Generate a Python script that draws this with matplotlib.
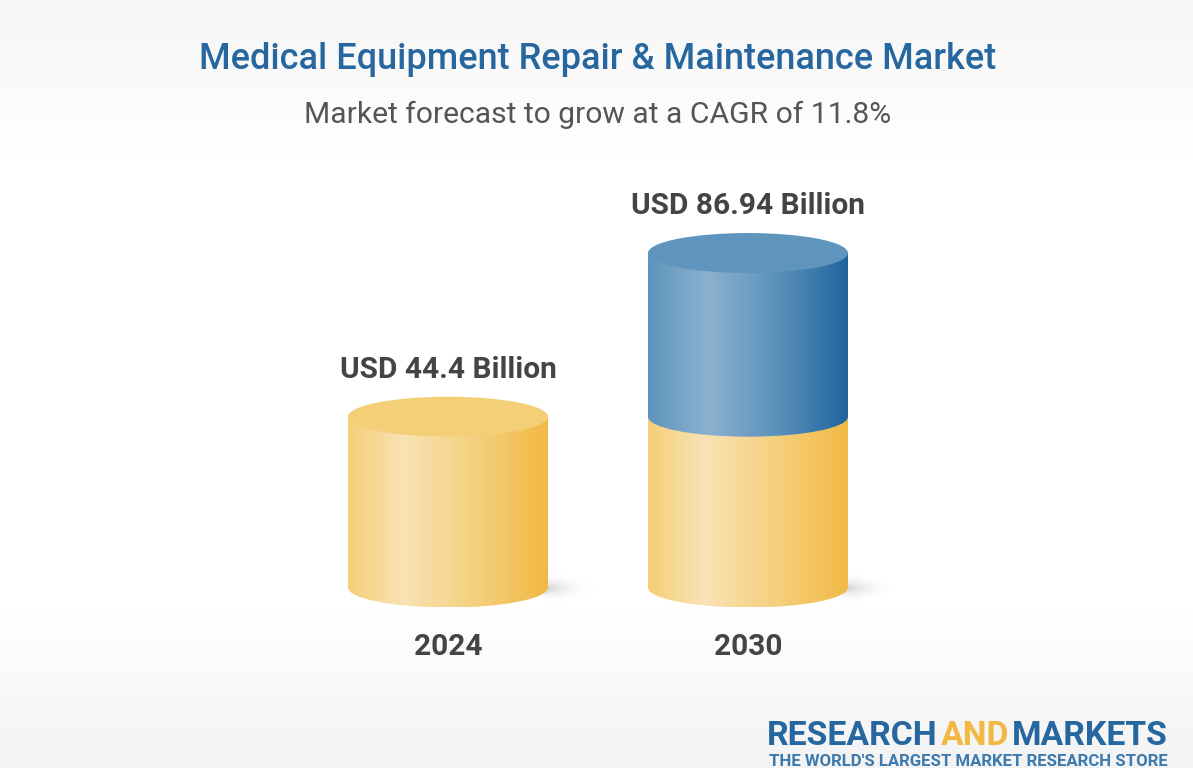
import numpy as np
import matplotlib
matplotlib.use("Agg")
import matplotlib.pyplot as plt
from matplotlib.colors import LinearSegmentedColormap
from matplotlib.patches import Ellipse, PathPatch
from matplotlib.path import Path

years = ["2024", "2030"]
values = [44.4, 86.94]
value_labels = ["USD 44.4 Billion", "USD 86.94 Billion"]
title = "Medical Equipment Repair & Maintenance Market"
subtitle = "Market forecast to grow at a CAGR of 11.8%"

W, H = 1193, 768
plt.rcParams["font.family"] = ["Roboto", "DejaVu Sans"]

# escala: 300 px entre barras, 3.847 px por unidad, base en y=587.5 px
px_x = 300.0
px_y = 3.847
base_px = 587.5
half_w = 100 / px_x
ry = 20 / px_y
rx = half_w

yellow_cm = LinearSegmentedColormap.from_list("y", [(0, "#f5cf78"), (0.28, "#f9e3b5"), (0.6, "#f5d283"), (1, "#f1b944")])
blue_cm = LinearSegmentedColormap.from_list("b", [(0, "#5f94bd"), (0.3, "#8cb1cf"), (0.62, "#5f94bd"), (1, "#20649f")])
bg_cm = LinearSegmentedColormap.from_list("bg", [(0, "#f6f6f6"), (0.2, "#ffffff"), (0.8, "#ffffff"), (1, "#f3f3f3")])
shadow_cm = LinearSegmentedColormap.from_list("s", ["#d2d2d2", "#ffffff"])

fig = plt.figure(figsize=(W / 100, H / 100), dpi=100)
ax = fig.add_axes([0, 0, 1, 1])
ax.axis("off")


def side_path(x, y0, y1):
    # costado del cilindro: rectangulo con base eliptica
    k = 0.5523
    verts = [
        (x - rx, y1), (x - rx, y0),
        (x - rx, y0 - k * ry), (x - k * rx, y0 - ry), (x, y0 - ry),
        (x + k * rx, y0 - ry), (x + rx, y0 - k * ry), (x + rx, y0),
        (x + rx, y1), (x - rx, y1),
    ]
    codes = [Path.MOVETO, Path.LINETO, Path.CURVE4, Path.CURVE4, Path.CURVE4,
             Path.CURVE4, Path.CURVE4, Path.CURVE4, Path.LINETO, Path.CLOSEPOLY]
    return Path(verts, codes)


def draw_side(x, y0, y1, cmap, z):
    grad = np.linspace(0, 1, 256).reshape(1, -1)
    im = ax.imshow(grad, cmap=cmap, aspect="auto", zorder=z, interpolation="bilinear",
                   extent=[x - rx, x + rx, y0 - ry, y1])
    patch = PathPatch(side_path(x, y0, y1), transform=ax.transData, fc="none", ec="none")
    ax.add_patch(patch)
    im.set_clip_path(patch)


# fondo
ax.imshow(np.linspace(0, 1, 256).reshape(-1, 1), cmap=bg_cm, aspect="auto", zorder=0,
          extent=[0, 1, 0, 1], transform=ax.transAxes)

xs = np.arange(len(years))
for x, v in zip(xs, values):
    # sombra
    gx = np.linspace(0, 1, 64)
    gy = np.linspace(-1, 1, 32)
    d = np.clip(np.sqrt(gx[None, :] ** 2 + gy[:, None] ** 2), 0, 1)
    ax.imshow(d, cmap=shadow_cm, aspect="auto", zorder=1, alpha=1 - d, interpolation="bilinear",
              extent=[x + rx - 5 / px_x, x + rx + 48 / px_x, -16 / px_y, 14 / px_y])
    draw_side(x, 0, values[0], yellow_cm, 2)

# parte azul de 2030
draw_side(xs[1], values[0], values[1], blue_cm, 3)

# tapas
ax.add_patch(Ellipse((xs[0], values[0]), 2 * rx, 2 * ry, fc="#f5cf78", ec="none", zorder=4))
ax.add_patch(Ellipse((xs[1], values[1]), 2 * rx, 2 * ry, fc="#5f94bd", ec="none", zorder=4))

for x, v, lab, yr in zip(xs, values, value_labels, years):
    ax.annotate(lab, (x, v), xytext=(0, 39), textcoords="offset pixels", ha="center", va="baseline",
                fontsize=21.5, fontweight="bold", color="#444444", zorder=5)
    ax.annotate(yr, (x, 0), xytext=(0, -67.5), textcoords="offset pixels", ha="center", va="baseline",
                fontsize=21.5, fontweight="bold", color="#444444", zorder=5)

ax.set_xlim(-448 / px_x, (W - 448) / px_x)
ax.set_ylim(-(H - base_px) / px_y, base_px / px_y)

ax.text(598 / W, 1 - 69 / H, title, transform=ax.transAxes, ha="center", va="baseline",
        fontsize=26, fontweight="medium", color="#27679f")
ax.text(598 / W, 1 - 123 / H, subtitle, transform=ax.transAxes, ha="center", va="baseline",
        fontsize=21.6, color="#555555")

# logo
ax.text(767 / W, 1 - 745 / H, "RESEARCH", transform=ax.transAxes, ha="left", va="baseline",
        fontsize=24.3, fontweight="bold", color="#27679f")
ax.text(975 / W, 1 - 745 / H, "AND", transform=ax.transAxes, ha="center", va="baseline",
        fontsize=24.3, fontweight="bold", color="#f1b944")
ax.text(1168 / W, 1 - 745 / H, "MARKETS", transform=ax.transAxes, ha="right", va="baseline",
        fontsize=24.3, fontweight="bold", color="#27679f")
ax.text(968 / W, 1 - 766 / H, "THE WORLD'S LARGEST MARKET RESEARCH STORE", transform=ax.transAxes,
        ha="center", va="baseline", fontsize=12.1, fontweight="bold", color="#3d7aae")

fig.savefig("out.png", dpi=100)
